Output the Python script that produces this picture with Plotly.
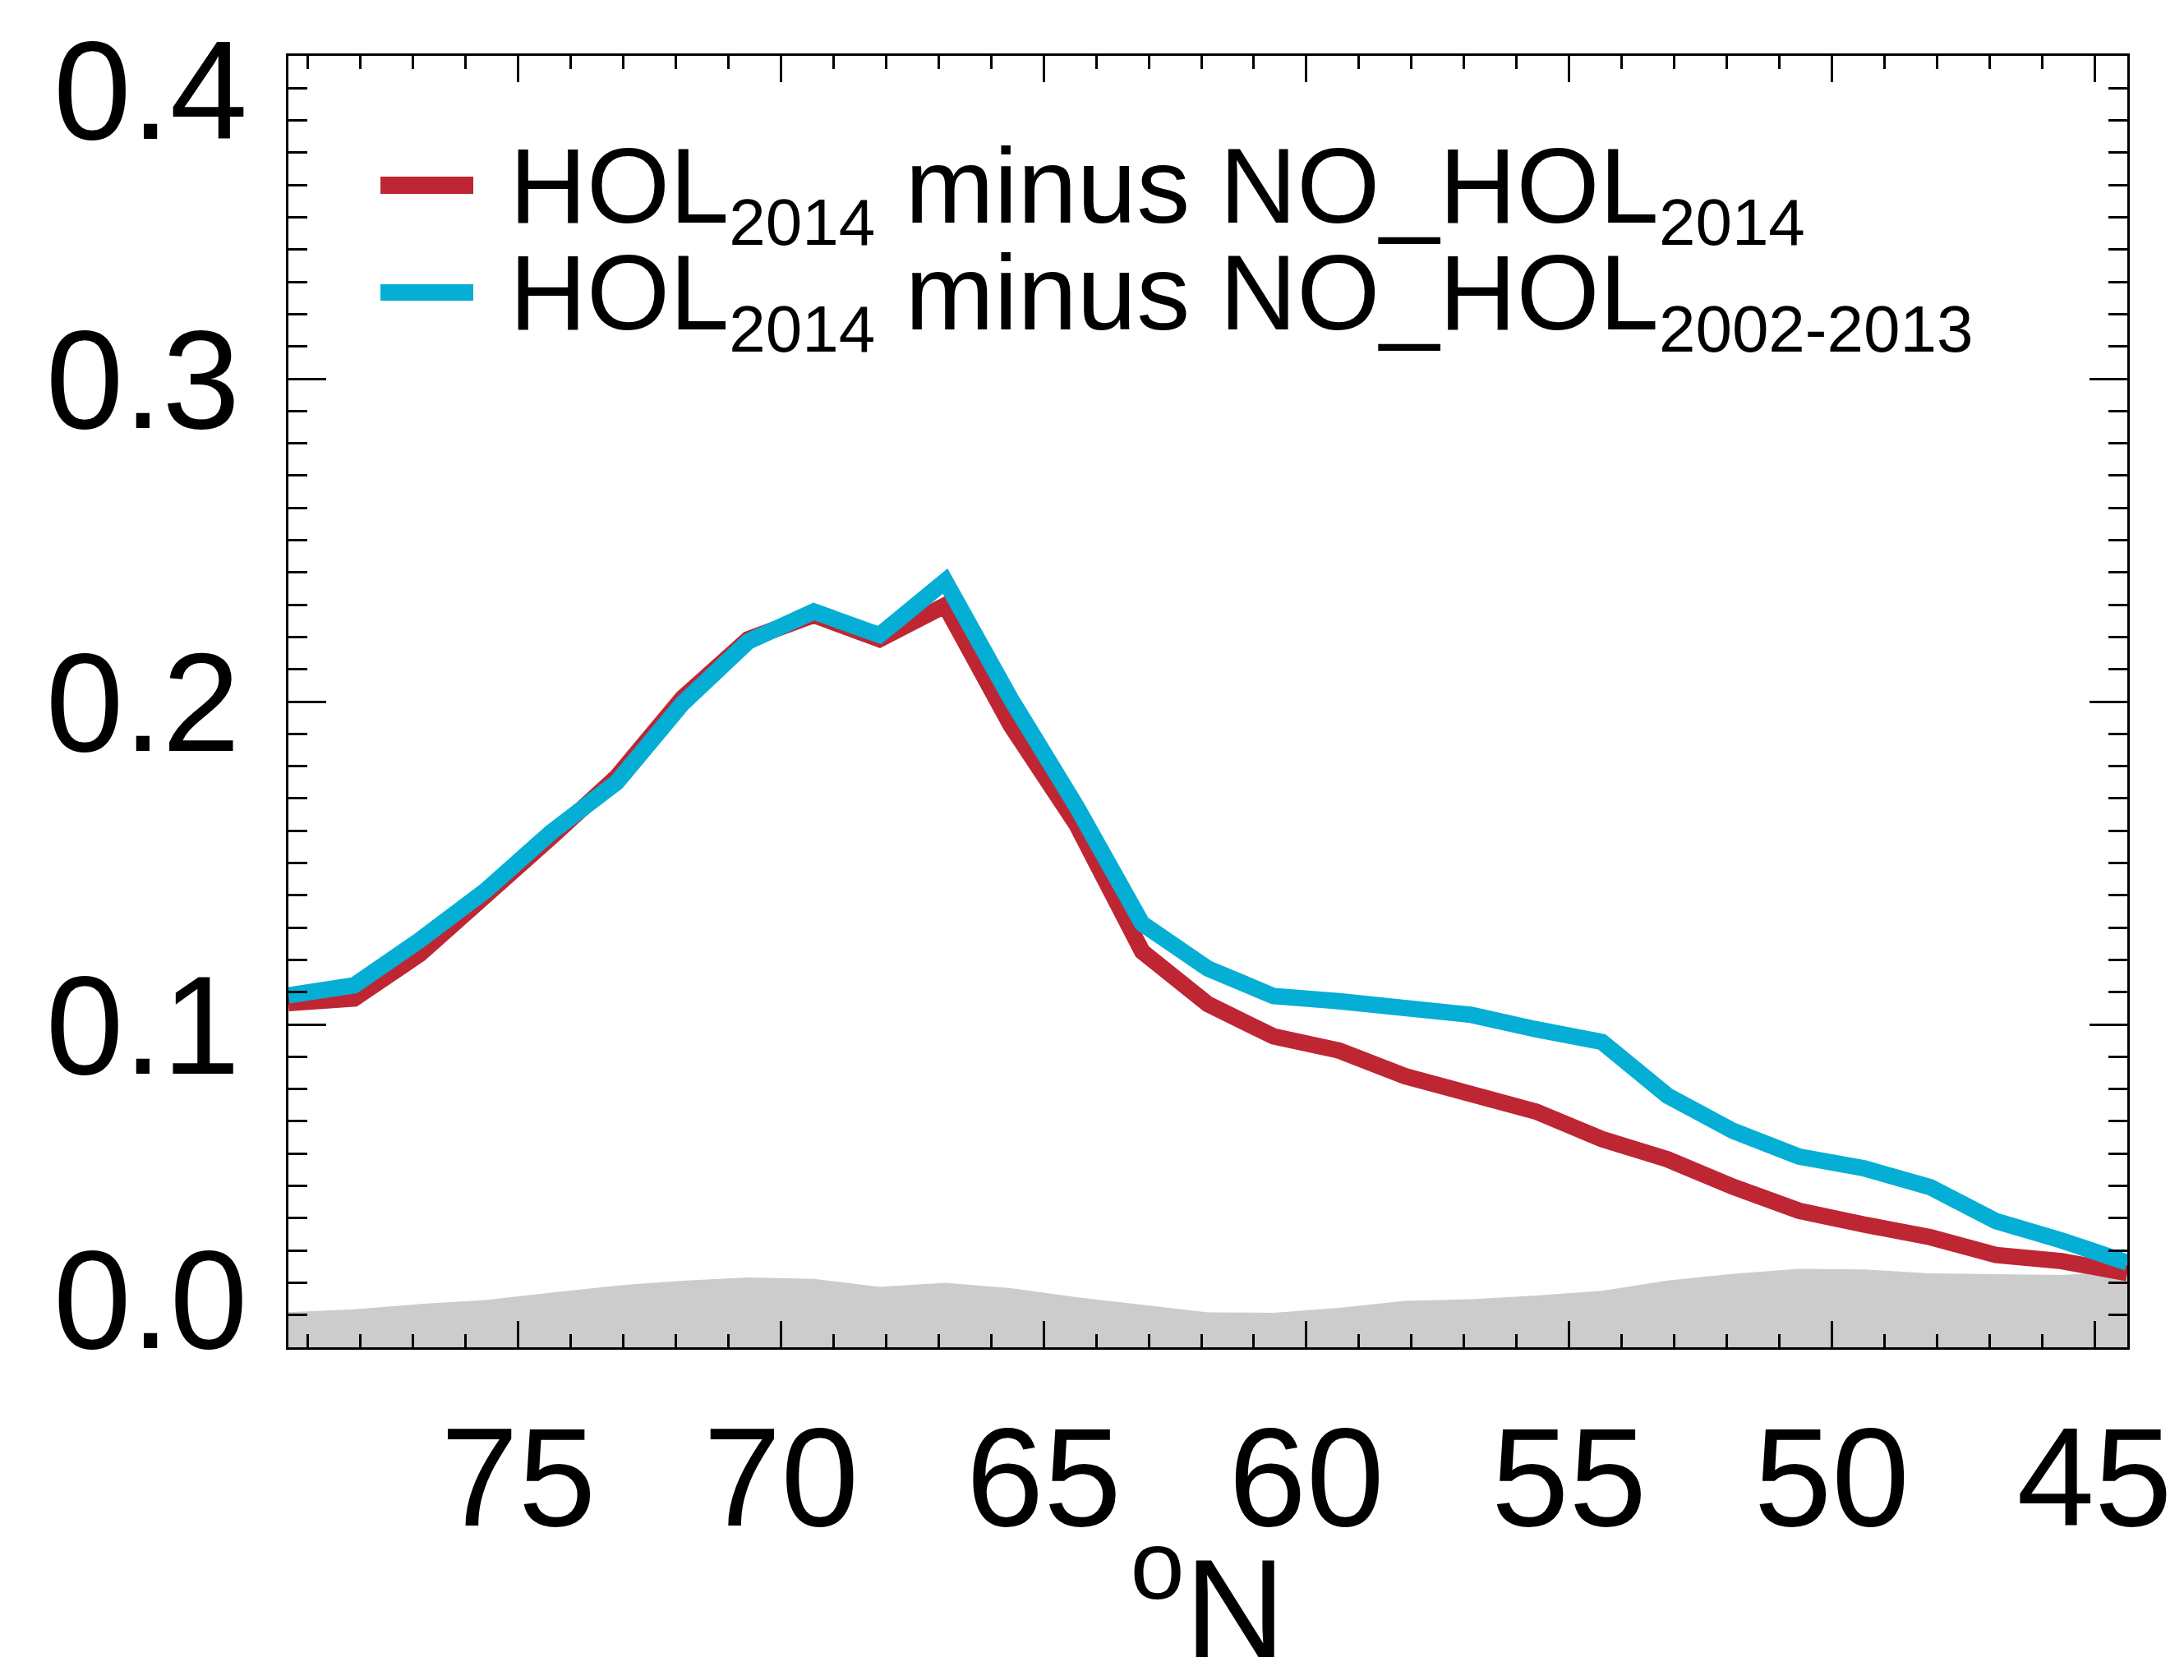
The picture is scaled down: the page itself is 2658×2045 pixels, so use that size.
import plotly.graph_objects as go

# ---------------- data ----------------
lat = [79.375, 78.125, 76.875, 75.625, 74.375, 73.125, 71.875, 70.625, 69.375, 68.125,
       66.875, 65.625, 64.375, 63.125, 61.875, 60.625, 59.375, 58.125, 56.875, 55.625,
       54.375, 53.125, 51.875, 50.625, 49.375, 48.125, 46.875, 45.625, 44.375]

hol_minus_nohol_2014 = [0.1066, 0.1080, 0.1218, 0.1394, 0.1580, 0.1767, 0.2011, 0.2193, 0.2268, 0.2193,
                        0.2298, 0.1926, 0.1619, 0.1226, 0.1063, 0.0963, 0.0919, 0.0840, 0.0789, 0.0730,
                        0.0645, 0.0582, 0.0497, 0.0423, 0.0380, 0.0341, 0.0286, 0.0267, 0.0230]

hol_minus_nohol_2002_2013 = [0.1090, 0.1121, 0.1261, 0.1414, 0.1595, 0.1750, 0.1994, 0.2186, 0.2279, 0.2206,
                             0.2373, 0.2008, 0.1675, 0.1312, 0.1173, 0.1088, 0.1072, 0.1054, 0.1030, 0.0985,
                             0.0946, 0.0779, 0.0670, 0.0591, 0.0554, 0.0496, 0.0391, 0.0331, 0.0262]

noise_band = [0.0109, 0.0118, 0.0134, 0.0146, 0.0169, 0.0191, 0.0206, 0.0216, 0.0212, 0.0187,
              0.0200, 0.0183, 0.0155, 0.0131, 0.0108, 0.0107, 0.0122, 0.0144, 0.0149, 0.0160,
              0.0175, 0.0207, 0.0228, 0.0243, 0.0241, 0.0229, 0.0226, 0.0224, 0.0235]

xtick_vals = [75, 70, 65, 60, 55, 50, 45]
xtick_text = ["75", "70", "65", "60", "55", "50", "45"]
ytick_vals = [0.1, 0.2, 0.3]
ytick_text = ["0.1", "0.2", "0.3"]
yedge_vals = [0.0, 0.4]
yedge_text = ["0.0", "0.4"]

series_main = ["HOL", "HOL"]
series_sub1 = ["2014", "2014"]
series_mid = [" minus NO_HOL", " minus NO_HOL"]
series_sub2 = ["2014", "2002-2013"]

# ---------------- style ----------------
RED = "#BE2633"
BLUE = "#05AED5"
GREY = "#CCCCCC"
FONT = "Liberation Sans"
W, H = 2658, 2045
L, R, T, B = 343, 77, 60, 413
PW, PH = W - L - R, H - T - B


def px_x(px):
    return (px - L) / PW


def px_y(py):
    return 1 - (py - T) / PH


def sub(s):
    return '<sub><span style="font-size:80px">' + s + '</span></sub>'


series_names = [m + sub(a) + mid + sub(b)
                for m, a, mid, b in zip(series_main, series_sub1, series_mid, series_sub2)]

fig = go.Figure()
fig.add_trace(go.Scatter(x=lat, y=noise_band, mode="lines", fill="tozeroy",
                         fillcolor=GREY, line=dict(color=GREY, width=0),
                         showlegend=False, hoverinfo="skip"))
fig.add_trace(go.Scatter(x=lat, y=hol_minus_nohol_2014, mode="lines",
                         line=dict(color=RED, width=20), name="HOL2014 minus NO_HOL2014",
                         showlegend=False))
fig.add_trace(go.Scatter(x=lat, y=hol_minus_nohol_2002_2013, mode="lines",
                         line=dict(color=BLUE, width=20), name="HOL2014 minus NO_HOL2002-2013",
                         showlegend=False))

axis_common = dict(showline=True, linewidth=3, linecolor="black", mirror="ticks",
                   ticks="inside", tickwidth=3, tickcolor="black",
                   showgrid=False, zeroline=False, automargin=False,
                   tickfont=dict(family=FONT, size=170, color="black"))

fig.update_xaxes(range=[79.375, 44.375], tickmode="array", tickvals=xtick_vals,
                 ticktext=xtick_text, ticklen=32, ticklabelstandoff=10,
                 minor=dict(dtick=1, tick0=45, ticks="inside", ticklen=16,
                            tickwidth=3, tickcolor="black", showgrid=False),
                 title=dict(text="<sup>o</sup>N", standoff=60,
                            font=dict(family=FONT, size=170, color="black")),
                 **axis_common)
fig.update_yaxes(range=[0, 0.4], tickmode="array", tickvals=ytick_vals,
                 ticktext=ytick_text, ticklen=46, ticklabelstandoff=22,
                 minor=dict(dtick=0.01, tick0=0, ticks="inside", ticklen=23,
                            tickwidth=3, tickcolor="black", showgrid=False),
                 **axis_common)

annotations = []
# edge y-axis labels (nudged inside the frame as in the original)
for val, txt, shift in zip(yedge_vals, yedge_text, [58, -42]):
    annotations.append(dict(x=0, xref="paper", xanchor="right", xshift=-48,
                            y=val, yref="y", yanchor="middle", yshift=shift,
                            text=txt, showarrow=False,
                            font=dict(family=FONT, size=170, color="black")))

# legend
shapes = []
legend_rows = [(207, 228, 143, RED), (338, 358, 273, BLUE)]
for name, (y0, y1, ytop, col) in zip(series_names, legend_rows):
    shapes.append(dict(type="rect", xref="paper", yref="paper",
                       x0=px_x(455), x1=px_x(568), y0=px_y(y1), y1=px_y(y0),
                       fillcolor=col, line=dict(width=0)))
    annotations.append(dict(x=px_x(610), xref="paper", xanchor="left",
                            y=px_y(ytop), yref="paper", yanchor="top",
                            text=name, showarrow=False,
                            font=dict(family=FONT, size=130, color="black")))

fig.update_layout(width=W, height=H, margin=dict(l=L, r=R, t=T, b=B),
                  plot_bgcolor="white", paper_bgcolor="white",
                  showlegend=False, annotations=annotations, shapes=shapes,
                  font=dict(family=FONT, color="black"))

fig.write_html("out.html")
